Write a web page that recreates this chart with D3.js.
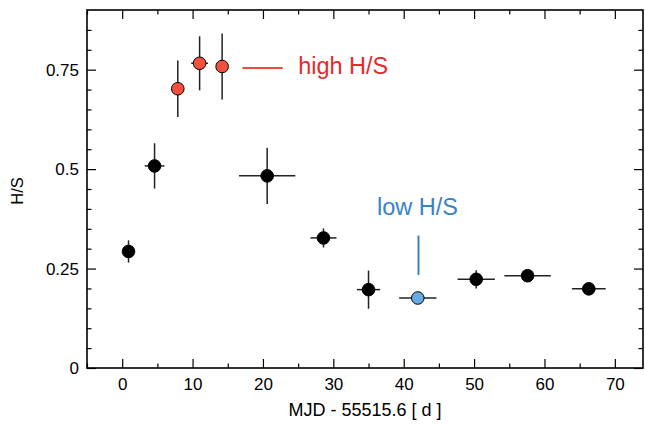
<!DOCTYPE html>
<html>
<head>
<meta charset="utf-8">
<script src="https://cdn.jsdelivr.net/npm/d3@7"></script>
<style>
  body { margin: 0; background: #fff; }
  svg { display: block; font-family: "Liberation Sans", Arial, sans-serif; }
</style>
</head>
<body>
<script>
// time since MJD 55515.6 [d], hardness ratio and errors
const mjd   = [0.9, 4.6, 7.9, 11.0, 14.2, 20.6, 28.6, 35.0, 42.0, 50.3, 57.6, 66.3];
const hs    = [0.293, 0.508, 0.702, 0.766, 0.758, 0.483, 0.327, 0.197, 0.176, 0.223, 0.232, 0.199];
const xErr  = [0, 1.4, 0, 1.2, 0, 4.0, 1.85, 1.65, 2.65, 2.65, 3.3, 2.4];
const yErr  = [0.028, 0.057, 0.071, 0.068, 0.083, 0.071, 0.024, 0.048, 0, 0.023, 0, 0];
const state = ['mid', 'mid', 'high', 'high', 'high', 'mid', 'mid', 'mid', 'low', 'mid', 'mid', 'mid'];

const xMajor = [0, 10, 20, 30, 40, 50, 60, 70];
const xMinor = [-5, 5, 15, 25, 35, 45, 55, 65];
const yMajor = [0, 0.25, 0.5, 0.75];
const yMinor = [0.05, 0.1, 0.15, 0.2, 0.3, 0.35, 0.4, 0.45, 0.55, 0.6, 0.65, 0.7, 0.8, 0.85];

const fillFor = { mid: '#000', high: '#f4503d', low: '#66aae4' };

// dimensions and margins of the graph
const margin = { top: 10, right: 2, bottom: 58, left: 87 };
const W = 645, H = 426;
const width = W - margin.left - margin.right;
const height = H - margin.top - margin.bottom;

const x = d3.scaleLinear().domain([-5, 74]).range([0, width]);
const y = d3.scaleLinear().domain([0, 0.9]).range([height, 0]);

const svg = d3.select('body').append('svg')
  .attr('width', W)
  .attr('height', H);

const g = svg.append('g')
  .attr('transform', 'translate(' + margin.left + ',' + margin.top + ')');

// axes, ticks pointing inwards
function styleAxis(sel) {
  sel.select('.domain').remove();
  sel.selectAll('.tick line').attr('stroke', '#000').attr('stroke-width', 1.2);
  sel.selectAll('.tick text').attr('fill', '#000').style('font-size', '17px')
    .style('font-family', '"Liberation Sans", Arial, sans-serif');
}

g.append('g').attr('transform', 'translate(0,' + height + ')')
  .call(d3.axisBottom(x).tickValues(xMajor).tickSize(-9).tickPadding(10).tickFormat(d3.format('d')))
  .call(styleAxis);
g.append('g').attr('transform', 'translate(0,' + height + ')')
  .call(d3.axisBottom(x).tickValues(xMinor).tickSize(-4.5).tickFormat(''))
  .call(styleAxis);
g.append('g')
  .call(d3.axisTop(x).tickValues(xMajor).tickSize(-9).tickFormat(''))
  .call(styleAxis);
g.append('g')
  .call(d3.axisTop(x).tickValues(xMinor).tickSize(-4.5).tickFormat(''))
  .call(styleAxis);

g.append('g')
  .call(d3.axisLeft(y).tickValues(yMajor).tickSize(-9).tickPadding(8).tickFormat(d => d === 0 ? '0' : String(d)))
  .call(styleAxis);
g.append('g')
  .call(d3.axisLeft(y).tickValues(yMinor).tickSize(-4.5).tickFormat(''))
  .call(styleAxis);
g.append('g').attr('transform', 'translate(' + width + ',0)')
  .call(d3.axisRight(y).tickValues(yMajor).tickSize(-9).tickFormat(''))
  .call(styleAxis);
g.append('g').attr('transform', 'translate(' + width + ',0)')
  .call(d3.axisRight(y).tickValues(yMinor).tickSize(-4.5).tickFormat(''))
  .call(styleAxis);

// frame
g.append('rect')
  .attr('width', width)
  .attr('height', height)
  .attr('fill', 'none')
  .attr('stroke', '#000')
  .attr('stroke-width', 1.6);

const data = mjd.map((d, i) => ({ t: d, v: hs[i], dx: xErr[i], dy: yErr[i], s: state[i] }));

// error bars
g.selectAll('.xerr').data(data.filter(d => d.dx > 0)).enter().append('line')
  .attr('class', 'xerr')
  .attr('x1', d => x(d.t - d.dx)).attr('x2', d => x(d.t + d.dx))
  .attr('y1', d => y(d.v)).attr('y2', d => y(d.v))
  .attr('stroke', '#222').attr('stroke-width', 1.5);
g.selectAll('.yerr').data(data.filter(d => d.dy > 0)).enter().append('line')
  .attr('class', 'yerr')
  .attr('x1', d => x(d.t)).attr('x2', d => x(d.t))
  .attr('y1', d => y(d.v - d.dy)).attr('y2', d => y(d.v + d.dy))
  .attr('stroke', '#222').attr('stroke-width', 1.5);

// points
g.selectAll('.pt').data(data).enter().append('circle')
  .attr('class', 'pt')
  .attr('cx', d => x(d.t)).attr('cy', d => y(d.v))
  .attr('r', 6.3)
  .attr('fill', d => fillFor[d.s])
  .attr('stroke', '#000').attr('stroke-width', 1);

// annotations
g.append('line')
  .attr('x1', x(17.1)).attr('x2', x(22.8))
  .attr('y1', y(0.754)).attr('y2', y(0.754))
  .attr('stroke', '#f04a3c').attr('stroke-width', 2);
g.append('text')
  .attr('x', x(25)).attr('y', y(0.739))
  .attr('fill', '#e42b2b')
  .style('font-size', '23.5px')
  .text('high H/S');

g.append('line')
  .attr('x1', x(42.1)).attr('x2', x(42.1))
  .attr('y1', y(0.333)).attr('y2', y(0.234))
  .attr('stroke', '#3a82c2').attr('stroke-width', 2);
g.append('text')
  .attr('x', x(36.2)).attr('y', y(0.385))
  .attr('fill', '#3a82c2')
  .style('font-size', '23.5px')
  .text('low H/S');

// axis titles
svg.append('text')
  .attr('x', 365)
  .attr('y', 416)
  .attr('text-anchor', 'middle')
  .style('font-size', '18px')
  .text('MJD - 55515.6 [ d ]');

svg.append('text')
  .attr('transform', 'translate(23,' + 191 + ') rotate(-90)')
  .attr('text-anchor', 'middle')
  .style('font-size', '16.5px')
  .text('H/S');
</script>
</body>
</html>
